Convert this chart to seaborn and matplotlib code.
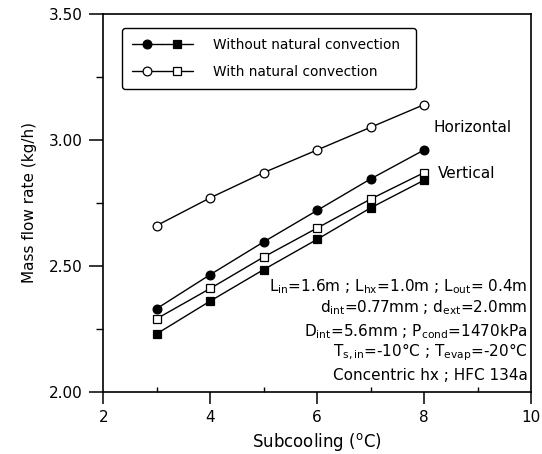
import numpy as np
import matplotlib
matplotlib.use("Agg")
import matplotlib.pyplot as plt
from matplotlib.lines import Line2D
from matplotlib.legend_handler import HandlerTuple
from matplotlib.ticker import MultipleLocator, FormatStrFormatter
import seaborn as sns

# ── Data ───────────────────────────────────────────────────────────────────
subcooling = [3, 4, 5, 6, 7, 8]
horiz_with    = [2.66, 2.77, 2.87, 2.96, 3.05, 3.14]   # open circles
horiz_without = [2.33, 2.465, 2.595, 2.72, 2.845, 2.96]  # filled circles
vert_with     = [2.29, 2.41, 2.535, 2.65, 2.765, 2.87]   # open squares
vert_without  = [2.23, 2.36, 2.485, 2.605, 2.73, 2.84]   # filled squares

legend_labels = ["Without natural convection", "With natural convection"]
info_lines = [
    r"L$_{\rm in}$=1.6m ; L$_{\rm hx}$=1.0m ; L$_{\rm out}$= 0.4m",
    r"d$_{\rm int}$=0.77mm ; d$_{\rm ext}$=2.0mm",
    r"D$_{\rm int}$=5.6mm ; P$_{\rm cond}$=1470kPa",
    r"T$_{\rm s,in}$=-10°C ; T$_{\rm evap}$=-20°C",
    "Concentric hx ; HFC 134a",
]

# ── Style ──────────────────────────────────────────────────────────────────
sns.set_style("ticks")
plt.rcParams.update({
    "font.family": ["DejaVu Sans"],
    "text.color": "black",
    "axes.labelcolor": "black",
    "axes.edgecolor": "black",
    "xtick.color": "black",
    "ytick.color": "black",
    "axes.linewidth": 1.2,
    "xtick.labelsize": 11,
    "ytick.labelsize": 11,
})

fig = plt.figure(figsize=(5.42, 4.54), dpi=100)
ax = fig.add_axes([0.1906, 0.1372, 0.7891, 0.8320])

common = dict(color="black", lw=1.0, markersize=6.3, markeredgewidth=0.9)
sns.lineplot(x=subcooling, y=horiz_with, ax=ax, marker="o",
             markerfacecolor="white", markeredgecolor="black", **common)
sns.lineplot(x=subcooling, y=horiz_without, ax=ax, marker="o",
             markerfacecolor="black", markeredgecolor="black", **common)
sns.lineplot(x=subcooling, y=vert_with, ax=ax, marker="s",
             markerfacecolor="white", markeredgecolor="black", **common)
sns.lineplot(x=subcooling, y=vert_without, ax=ax, marker="s",
             markerfacecolor="black", markeredgecolor="black", **common)

ax.set_xlim(2, 10)
ax.set_ylim(2.0, 3.5)
ax.xaxis.set_major_locator(MultipleLocator(2))
ax.xaxis.set_minor_locator(MultipleLocator(1))
ax.yaxis.set_major_locator(MultipleLocator(0.5))
ax.yaxis.set_minor_locator(MultipleLocator(0.25))
ax.yaxis.set_major_formatter(FormatStrFormatter("%.2f"))
for s in ax.spines.values():
    s.set_visible(True)
    s.set_color("black")

ax.tick_params(axis="y", which="major", direction="out", length=10, width=1.1, pad=5)
ax.tick_params(axis="y", which="minor", direction="out", length=5, width=1.0)
ax.tick_params(axis="x", which="major", direction="out", length=8.5, width=1.1, pad=5)
ax.tick_params(axis="x", which="minor", direction="in", length=3.5, width=1.0)

ax.set_xlabel(r"Subcooling ($^{\rm o}$C)", fontsize=12, labelpad=4)
ax.set_ylabel("Mass flow rate (kg/h)", fontsize=11, labelpad=8)

# ── Legend: filled / open pairs ────────────────────────────────────────────
def mk(marker, face):
    return Line2D([], [], color="black", lw=1.0, marker=marker, markersize=6.3,
                  markerfacecolor=face, markeredgecolor="black", markeredgewidth=0.9)

handles = [(mk("o", "black"), mk("s", "black")),
           (mk("o", "white"), mk("s", "white"))]
leg = ax.legend(handles, legend_labels,
                handler_map={tuple: HandlerTuple(ndivide=None, pad=0)},
                loc="upper left", bbox_to_anchor=(0.044, 0.804, 0.687, 0.159),
                mode="expand", borderaxespad=0, fontsize=9.9, handlelength=4.4,
                handletextpad=1.5, labelspacing=0.95, borderpad=0.72,
                frameon=True, fancybox=True, framealpha=1)
leg.get_frame().set_edgecolor("black")
leg.get_frame().set_linewidth(1.0)

# ── Annotations ────────────────────────────────────────────────────────────
ax.text(8.17, 3.05, "Horizontal", fontsize=11, va="center", ha="left")
ax.text(8.26, 2.868, "Vertical", fontsize=11, va="center", ha="left")

info_y = [0.277, 0.2215, 0.158, 0.105, 0.044]
for txt, yy in zip(info_lines, info_y):
    ax.text(0.992, yy, txt, transform=ax.transAxes, fontsize=11,
            ha="right", va="center")

fig.savefig("out.png", dpi=100)
